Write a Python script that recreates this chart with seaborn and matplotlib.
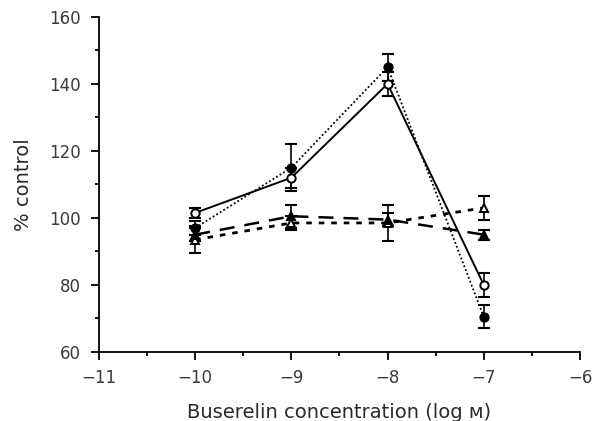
import matplotlib
matplotlib.use("Agg")
import matplotlib.pyplot as plt
import seaborn as sns
import pandas as pd
from matplotlib.ticker import MultipleLocator

sns.set_style("ticks")
plt.rcParams['font.family'] = ['DejaVu Sans']

conc = [-10, -9, -8, -7]
filled_circle = [97, 115, 145, 70.5]
filled_circle_err = [2, 7, 4, 3.5]
open_circle = [101.5, 112, 140, 80]
open_circle_err = [1.5, 3, 3.5, 3.5]
open_triangle = [93.5, 98.5, 98.5, 103]
open_triangle_err = [4, 2, 5.5, 3.5]
filled_triangle = [95, 100.5, 99.5, 95]
filled_triangle_err = [2, 3.5, 2, 1.5]

fig = plt.figure(figsize=(5.93, 4.21), dpi=100)
ax = fig.add_axes([0.167, 0.164, 0.811, 0.796])

series = [
    (filled_circle, filled_circle_err, 'o', 'black', (0, (1, 1.3)), 1.3),
    (open_circle, open_circle_err, 'o', 'white', '-', 1.4),
    (open_triangle, open_triangle_err, '^', 'white', (0, (2, 2.5)), 2.0),
    (filled_triangle, filled_triangle_err, '^', 'black', (0, (6, 4)), 1.8),
]
for vals, err, mk, fc, ls, lw in series:
    df = pd.DataFrame({'x': conc, 'y': vals})
    ax.errorbar(conc, vals, yerr=err, fmt='none', ecolor='black',
                elinewidth=1.2, capsize=4, capthick=1.5, zorder=2)
    sns.lineplot(data=df, x='x', y='y', ax=ax, color='black', linestyle=ls,
                 linewidth=lw, marker=mk, markersize=6, markerfacecolor=fc,
                 markeredgecolor='black', markeredgewidth=1.4, zorder=3)

ax.set_xlim(-11, -6)
ax.set_ylim(60, 160)
ax.xaxis.set_major_locator(MultipleLocator(1))
ax.xaxis.set_minor_locator(MultipleLocator(0.5))
ax.yaxis.set_major_locator(MultipleLocator(20))
ax.yaxis.set_minor_locator(MultipleLocator(10))
ax.set_xticks([-11, -10, -9, -8, -7, -6])
ax.set_xticklabels(['\u221211', '\u221210', '\u22129', '\u22128', '\u22127', '\u22126'])
ax.tick_params(which='major', length=6, width=1.3, color='black',
               labelsize=12, labelcolor='#3a3a3a', direction='out')
ax.tick_params(axis='x', which='major', pad=6)
ax.tick_params(axis='y', which='major', pad=7)
ax.tick_params(which='minor', length=3, width=1.3, color='black', direction='out')
for s in ['top', 'right']:
    ax.spines[s].set_visible(False)
for s in ['left', 'bottom']:
    ax.spines[s].set_linewidth(1.3)
    ax.spines[s].set_color('black')

ax.set_xlabel('Buserelin concentration (log \u1d0d)', fontsize=14, color='#2a2a2a', labelpad=12)
ax.set_ylabel('% control', fontsize=14, color='#2a2a2a', labelpad=12)

fig.savefig('out.png', dpi=100)
